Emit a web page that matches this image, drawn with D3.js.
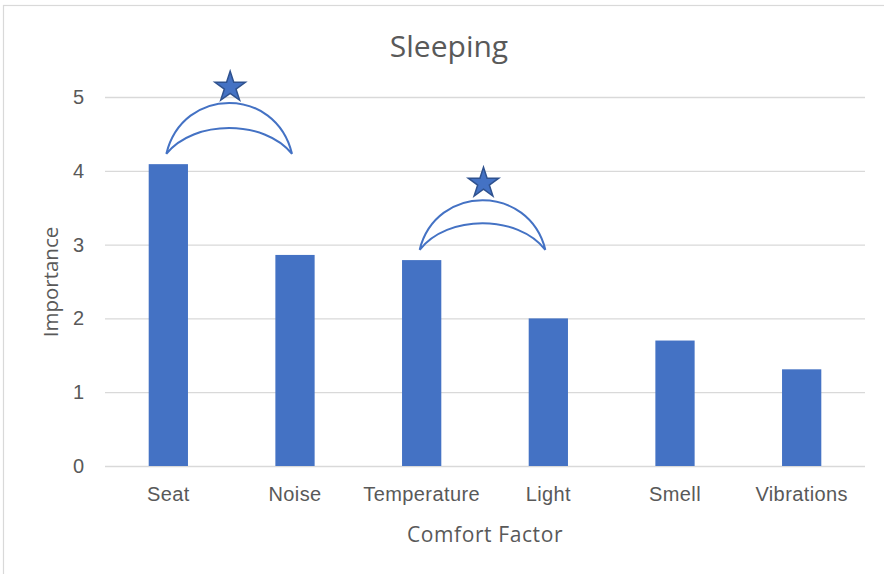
<!DOCTYPE html>
<html>
<head>
<meta charset="utf-8">
<script src="https://cdn.jsdelivr.net/npm/d3@7"></script>
<style>
  html, body { margin: 0; padding: 0; background: #fff; }
  svg { display: block; font-family: "Open Sans", sans-serif; }
</style>
</head>
<body>
<svg id="chart" width="884" height="574"></svg>
<script>
// ---- data ----
const categories = ["Seat", "Noise", "Temperature", "Light", "Smell", "Vibrations"];
const importance = [4.09, 2.86, 2.79, 2.0, 1.7, 1.31];
const yTicks = [0, 1, 2, 3, 4, 5];
const chartTitle = "Sleeping";
const xTitle = "Comfort Factor";
const yTitle = "Importance";
// annotation crescents with stars (data units)
const annotFrom = ["Seat", "Temperature"];
const annotTo = ["Noise", "Light"];
const annotBase = [4.23, 2.93];
const annotOuterTop = [4.92, 3.60];
const annotInnerTop = [4.58, 3.29];
const annotStar = [5.16, 3.86];

// ---- layout ----
const svg = d3.select("#chart");
const W = 884, H = 574;
const plot = { left: 105, right: 865, top: 97, bottom: 466 };
const blue = "#4472C4";
const textColor = "#595959";

svg.append("rect").attr("x", 3.5).attr("y", 5.5).attr("width", W + 20).attr("height", H + 20)
  .attr("fill", "#fff").attr("stroke", "#d9d9d9").attr("stroke-width", 1.2);

const x = d3.scaleBand().domain(categories).range([plot.left, plot.right])
  .paddingInner(0.69).paddingOuter(0.345);
const y = d3.scaleLinear().domain([0, 5]).range([plot.bottom, plot.top]);

// gridlines
const yAxis = d3.axisLeft(y).tickValues(yTicks).tickSize(-(plot.right - plot.left)).tickPadding(14)
  .tickFormat(d3.format("d"));
const gy = svg.append("g").attr("transform", `translate(${plot.left},0)`).call(yAxis);
gy.select(".domain").remove();
gy.selectAll(".tick line").attr("stroke", "#d9d9d9").attr("stroke-width", 1.3);
gy.selectAll(".tick text").attr("fill", textColor).attr("font-size", 20).attr("dx", -7);

// bars
svg.append("g").selectAll("rect").data(categories).join("rect")
  .attr("x", d => x(d))
  .attr("width", x.bandwidth())
  .attr("y", (d, i) => y(importance[i]))
  .attr("height", (d, i) => y(0) - y(importance[i]))
  .attr("fill", blue);

// x axis labels
const xAxis = d3.axisBottom(x).tickSize(0).tickPadding(21);
const gx = svg.append("g").attr("transform", `translate(0,${plot.bottom})`).call(xAxis);
gx.select(".domain").remove();
gx.selectAll(".tick text").attr("fill", textColor).attr("font-size", 20).attr("letter-spacing", 0.4);

// titles
svg.append("text").attr("x", 449).attr("y", 57).attr("text-anchor", "middle")
  .attr("fill", textColor).attr("font-size", 30).text(chartTitle);
svg.append("text").attr("x", 485).attr("y", 542).attr("text-anchor", "middle")
  .attr("fill", textColor).attr("font-size", 21).attr("letter-spacing", 0.6).text(xTitle);
svg.append("text").attr("transform", "translate(58,282) rotate(-90)").attr("text-anchor", "middle")
  .attr("fill", textColor).attr("font-size", 20.5).text(yTitle);

// annotations
const ann = svg.append("g");
annotFrom.forEach((f, i) => {
  const x1 = x(f) + x.bandwidth() / 2 - 2;
  const x2 = x(annotTo[i]) + x.bandwidth() / 2 - 3;
  const w = x2 - x1;
  const yb = y(annotBase[i]);
  const co = yb - (yb - y(annotOuterTop[i])) / 0.75;
  const ci = yb - (yb - y(annotInnerTop[i])) / 0.75;
  const p = `M${x1},${yb} C${x1 + 0.13 * w},${co} ${x2 - 0.13 * w},${co} ${x2},${yb}` +
            ` C${x2 - 0.22 * w},${ci} ${x1 + 0.22 * w},${ci} ${x1},${yb} Z`;
  ann.append("path").attr("d", p).attr("fill", "#fff").attr("stroke", blue)
    .attr("stroke-width", 2).attr("stroke-linejoin", "miter");
  const sx = (x1 + x2) / 2;
  const sy = y(annotStar[i]);
  ann.append("path").attr("d", d3.symbol(d3.symbolStar, 16 * 16 / 0.8908130915292852)())
    .attr("transform", `translate(${sx + 1},${sy + 2})`)
    .attr("fill", blue).attr("stroke", "#2F528F").attr("stroke-width", 1.5);
});
</script>
</body>
</html>
